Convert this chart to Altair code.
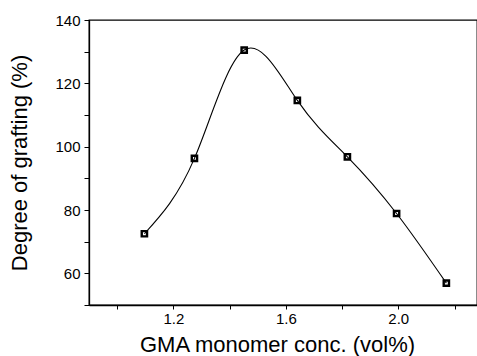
import altair as alt
import pandas as pd

conc = [1.097, 1.275, 1.452, 1.641, 1.819, 1.994, 2.171]
grafting = [72.5, 96.3, 130.5, 114.6, 96.8, 78.9, 56.9]

x_ticks = [1.0, 1.2, 1.4, 1.6, 1.8, 2.0, 2.2]
y_ticks = [50, 60, 70, 80, 90, 100, 110, 120, 130, 140]

df = pd.DataFrame({"conc": conc, "grafting": grafting})

FONT = "Liberation Sans"

x = alt.X(
    "conc:Q",
    scale=alt.Scale(domain=[0.9, 2.28], nice=False, zero=False),
    axis=alt.Axis(
        title="GMA monomer conc. (vol%)",
        values=x_ticks,
        labelExpr="(abs(datum.value-1.2)<0.01 || abs(datum.value-1.6)<0.01 || abs(datum.value-2.0)<0.01) ? format(datum.value, '.1f') : ''",
        grid=False,
        tickSize=4,
        labelPadding=2,
        titlePadding=8,
        titleX=188,
    ),
)
y = alt.Y(
    "grafting:Q",
    scale=alt.Scale(domain=[50, 140], nice=False, zero=False),
    axis=alt.Axis(
        title="Degree of grafting (%)",
        values=y_ticks,
        labelExpr="(datum.value % 20 == 0) ? datum.value : ''",
        grid=False,
        tickSize=5,
        labelPadding=4,
        titlePadding=23,
    ),
)

line = alt.Chart(df).mark_line(
    interpolate="natural", color="black", strokeWidth=1.1
).encode(x=x, y=y)

points = alt.Chart(df).mark_point(
    shape="square", filled=False, color="black", size=28, strokeWidth=2.4, opacity=1
).encode(x=x, y=y)

chart = (
    (line + points)
    .properties(
        width=388,
        height=285,
        autosize=alt.AutoSizeParams(type="none"),
        padding={"left": 89, "top": 20, "right": 0, "bottom": 51},
        background="white",
    )
    .configure_view(stroke="black", strokeWidth=1.3)
    .configure_axis(
        domainColor="black",
        domainWidth=1.3,
        tickColor="black",
        tickWidth=1,
        labelFont=FONT,
        labelFontSize=15,
        labelColor="black",
        titleFont=FONT,
        titleFontSize=22,
        titleFontWeight="normal",
        titleColor="black",
    )
)

chart.save("out.html", embed_options={"renderer": "svg", "actions": False})
